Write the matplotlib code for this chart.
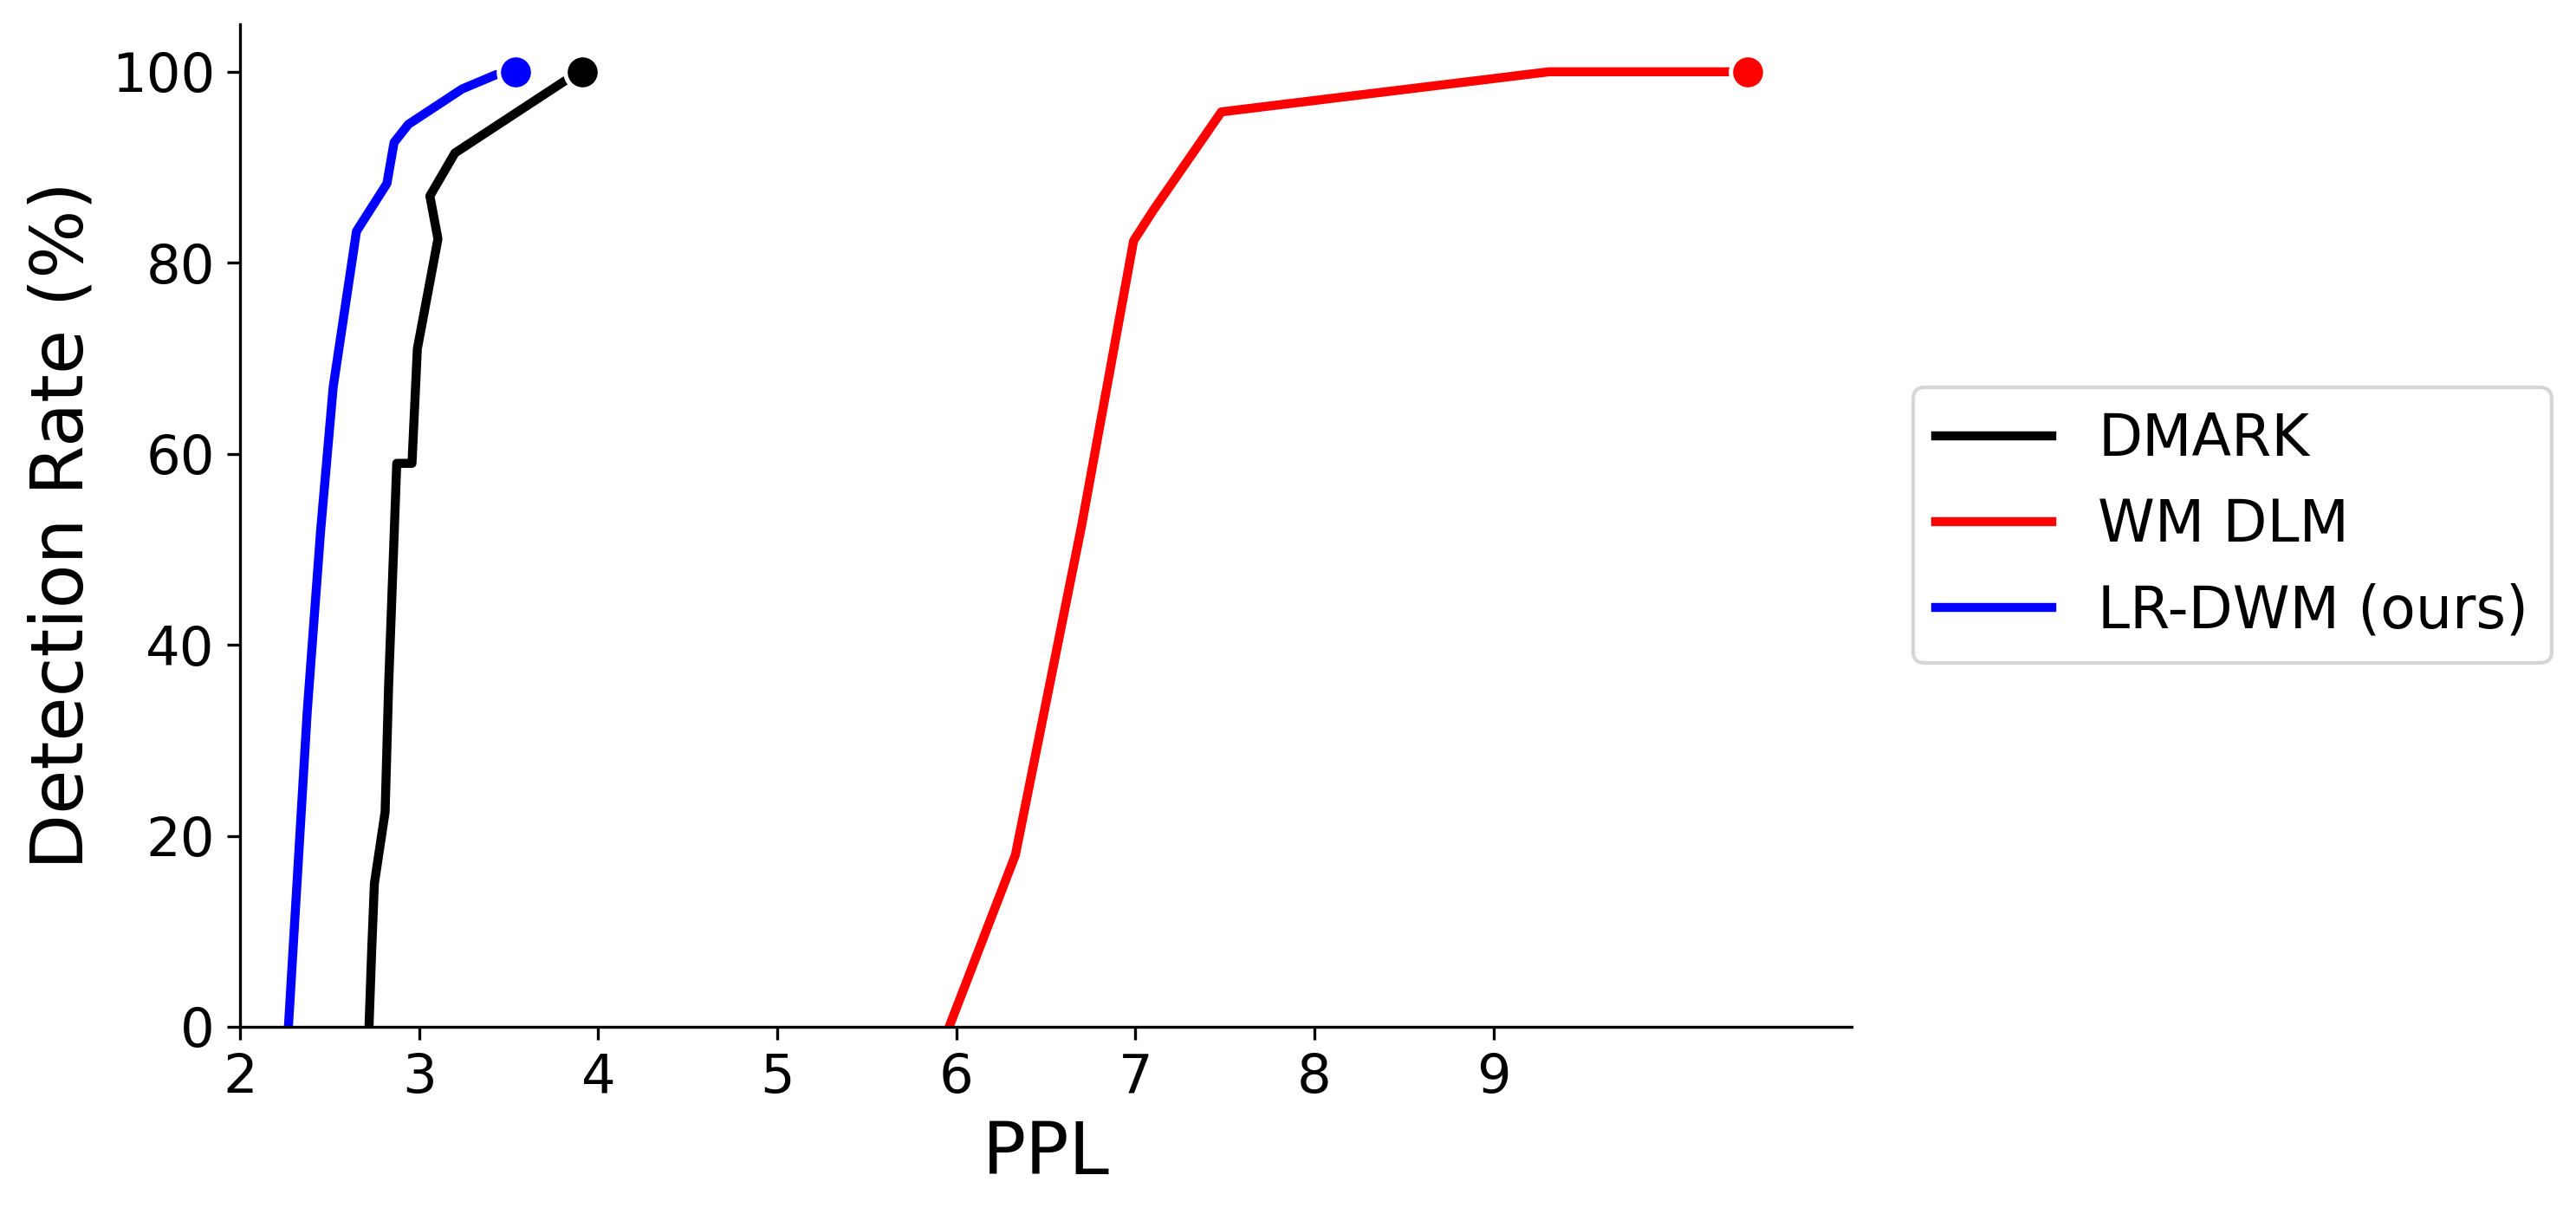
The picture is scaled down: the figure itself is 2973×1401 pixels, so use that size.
import matplotlib.pyplot as plt
import numpy as np

# PPL (x) vs detection rate (y) for each method
dmark_ppl = [2.72, 2.735, 2.75, 2.81, 2.83, 2.875, 2.96, 2.99, 3.105, 3.06, 3.20, 3.81, 3.91]
dmark_det = [0, 8, 15, 22.5, 36, 59, 59, 71, 82.5, 87, 91.5, 99, 100]

wmdlm_ppl = [5.96, 6.33, 6.70, 6.99, 7.10, 7.48, 9.31, 10.28, 10.42]
wmdlm_det = [0, 18, 52.5, 82.3, 85.5, 95.8, 100, 100, 100]

lrdwm_ppl = [2.27, 2.375, 2.45, 2.52, 2.65, 2.82, 2.86, 2.94, 3.24, 3.43, 3.54]
lrdwm_det = [0, 33, 52, 67, 83.3, 88.3, 92.6, 94.5, 98.2, 99.7, 100]

names = ["DMARK", "WM DLM", "LR-DWM (ours)"]
colors = ["black", "red", "blue"]
xs = [dmark_ppl, wmdlm_ppl, lrdwm_ppl]
ys = [dmark_det, wmdlm_det, lrdwm_det]

fig = plt.figure(figsize=(2973/300, 1401/300), dpi=300)
ax = fig.add_axes([0.0932, 0.1542, 0.6256, 0.826])

for x, y, c, n in zip(xs, ys, colors, names):
    ax.plot(x, y, color=c, lw=2.5, label=n)
    ax.plot(x[-1], y[-1], 'o', color=c, ms=9.5, mec='white', mew=1.2)

ax.set_xlim(2, 11)
ax.set_ylim(0, 105)
ax.set_xticks(np.arange(2, 10))
ax.set_yticks(np.arange(0, 101, 20))
ax.tick_params(labelsize=15)
ax.set_xlabel("PPL", fontsize=20)
ax.set_ylabel("Detection Rate (%)", fontsize=20)
ax.spines['top'].set_visible(False)
ax.spines['right'].set_visible(False)

ax.legend(loc='center left', bbox_to_anchor=(1.038, 0.5), borderaxespad=0, fontsize=16)

fig.savefig("out.png", dpi=300)
